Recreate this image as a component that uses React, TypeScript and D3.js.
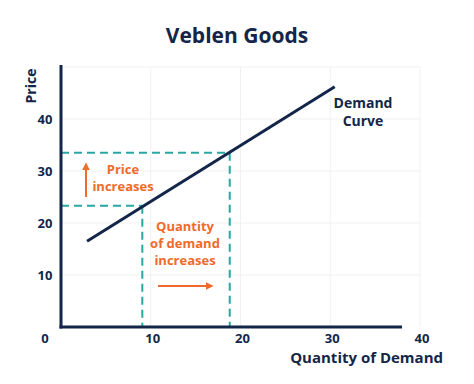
import React from "react";
import * as d3 from "d3";

// values
const demandCurve: [number, number][] = [
  [2.9, 16.5],
  [30.5, 46.2],
];
const quantityBefore = 9.06;
const quantityAfter = 18.8;
const priceBefore = 23.3;
const priceAfter = 33.5;
const xTicks = [10, 20, 30, 40];
const yTicks = [10, 20, 30, 40];
const gridX = [10, 20, 30, 40];
const gridY = [10, 20, 30, 40, 50];

const W = 474,
  H = 384;
const NAVY = "#13264a";
const TEAL = "#2aa6a3";
const ORANGE = "#f06a2c";
const FONT = "'Open Sans', 'Noto Sans', sans-serif";

export default function App() {
  const x = d3.scaleLinear().domain([0, 40]).range([61, 420]);
  const y = d3.scaleLinear().domain([0, 50]).range([327, 67]);
  const line = d3
    .line<[number, number]>()
    .x((d) => x(d[0]))
    .y((d) => y(d[1]));

  const dash = "8 5";

  return (
    <svg
      width={W}
      height={H}
      viewBox={`0 0 ${W} ${H}`}
      style={{ position: "absolute", left: 0, top: 0, background: "#fff" }}
      fontFamily={FONT}
    >
      <defs>
        <marker id="arr" viewBox="0 0 10 10" refX="8" refY="5" markerWidth="4" markerHeight="4" orient="auto">
          <path d="M0,0 L10,5 L0,10 Z" fill={ORANGE} />
        </marker>
      </defs>

      <text x={W / 2} y={43} textAnchor="middle" fontSize={21} fontWeight={700} fill={NAVY}>
        Veblen Goods
      </text>

      {/* faint grid */}
      <g stroke="#f1f1f1" strokeWidth={1}>
        {gridY.map((v) => (
          <line key={"gy" + v} x1={x(0)} x2={x(40)} y1={y(v)} y2={y(v)} />
        ))}
        {gridX.map((v) => (
          <line key={"gx" + v} x1={x(v)} x2={x(v)} y1={y(50)} y2={y(0)} />
        ))}
      </g>

      {/* dashed guides */}
      <g stroke={TEAL} strokeWidth={2} strokeDasharray={dash} fill="none">
        <line x1={x(0)} x2={x(quantityAfter)} y1={y(priceAfter)} y2={y(priceAfter)} />
        <line x1={x(0)} x2={x(quantityBefore)} y1={y(priceBefore)} y2={y(priceBefore)} />
        <line x1={x(quantityBefore)} x2={x(quantityBefore)} y1={y(priceBefore)} y2={y(0)} />
        <line x1={x(quantityAfter)} x2={x(quantityAfter)} y1={y(priceAfter)} y2={y(0)} />
      </g>

      <path d={line(demandCurve) ?? ""} stroke={NAVY} strokeWidth={3} fill="none" />

      {/* axes */}
      <line x1={x(0)} x2={x(0)} y1={y(50) - 2} y2={y(0) + 1.5} stroke={NAVY} strokeWidth={3} />
      <line x1={x(0) - 1.5} x2={x(38)} y1={y(0)} y2={y(0)} stroke={NAVY} strokeWidth={3} />

      <g fontSize={13} fontWeight={700} fill={NAVY} textAnchor="middle">
        {xTicks.map((v) => (
          <text key={"xt" + v} x={x(v) + 2} y={y(0) + 16}>
            {v}
          </text>
        ))}
        {yTicks.map((v) => (
          <text key={"yt" + v} x={45} y={y(v) + 5}>
            {v}
          </text>
        ))}
        <text x={45} y={y(0) + 16}>
          0
        </text>
      </g>

      <text
        transform={`translate(36,86) rotate(-90)`}
        textAnchor="middle"
        fontSize={14}
        fontWeight={700}
        fill={NAVY}
      >
        Price
      </text>
      <text x={443} y={363} textAnchor="end" fontSize={15} fontWeight={700} fill={NAVY}>
        Quantity of Demand
      </text>

      <g fontSize={14} fontWeight={700} fill={NAVY} textAnchor="middle">
        <text x={363} y={108}>Demand</text>
        <text x={363} y={126}>Curve</text>
      </g>

      <g fontSize={13} fontWeight={700} fill={ORANGE} textAnchor="middle">
        <text x={123} y={174}>Price</text>
        <text x={123} y={191}>increases</text>
        <text x={185} y={231}>Quantity</text>
        <text x={185} y={248}>of demand</text>
        <text x={185} y={265}>increases</text>
      </g>

      <g stroke={ORANGE} strokeWidth={2}>
        <line x1={86} x2={86} y1={197} y2={164} markerEnd="url(#arr)" />
        <line x1={158} x2={212} y1={286} y2={286} markerEnd="url(#arr)" />
      </g>
    </svg>
  );
}
